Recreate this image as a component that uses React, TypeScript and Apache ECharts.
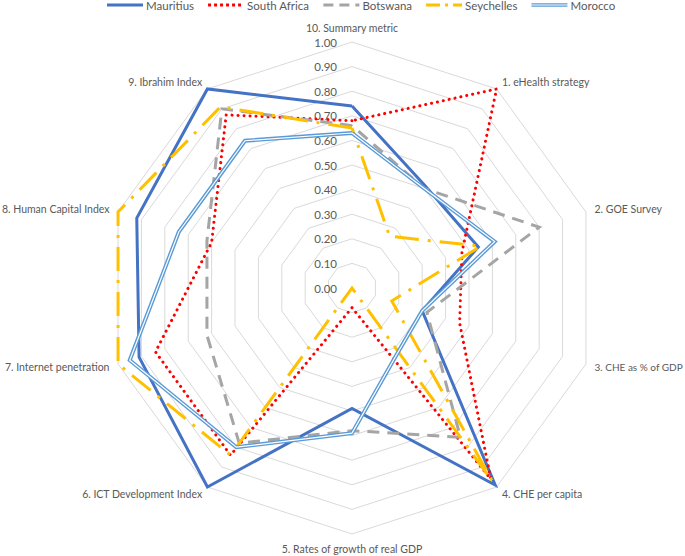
import React, { useEffect, useRef } from "react";
import * as echarts from "echarts";

// Indicators listed clockwise from the top, as in the picture
const INDICATORS = [
  "10. Summary metric",
  "1. eHealth strategy",
  "2. GOE Survey",
  "3. CHE as % of GDP",
  "4. CHE per capita",
  "5. Rates of growth of real GDP",
  "6. ICT Development Index",
  "7. Internet penetration",
  "8. Human Capital Index",
  "9. Ibrahim Index",
];

const MAURITIUS = [0.74, 0.51, 0.54, 0.3, 0.99, 0.49, 1.0, 0.91, 0.92, 1.0];
const SOUTH_AFRICA = [0.68, 1.0, 0.47, 0.46, 0.96, 0.08, 0.84, 0.84, 0.6, 0.87];
const BOTSWANA = [0.66, 0.5, 0.8, 0.32, 0.75, 0.58, 0.78, 0.62, 0.62, 0.9];
const SEYCHELLES = [0.65, 0.26, 0.55, 0.17, 0.97, 0.0, 0.84, 1.0, 1.0, 0.91];
const MOROCCO = [0.63, 0.5, 0.61, 0.3, 0.32, 0.59, 0.8, 0.95, 0.74, 0.74];

const SCALE_MIN = 0;
const SCALE_MAX = 1;
const SCALE_STEP = 0.1;

const TEXT = "#595959";
const FONT = "Lato, 'Liberation Sans', sans-serif";

const ICON_W = 36;
const ICON_H = 10;

function segs(pattern: number[] | null): [number, number][] {
  if (!pattern) return [[0, ICON_W]];
  const out: [number, number][] = [];
  let x = 0;
  let i = 0;
  while (x < ICON_W) {
    const len = pattern[i % pattern.length];
    if (i % 2 === 0) out.push([x, Math.min(len, ICON_W - x)]);
    x += len;
    i++;
  }
  return out;
}

function iconPath(pattern: number[] | null, rows: [number, number][]) {
  let d = `M0,0M${ICON_W},${ICON_H}`;
  for (const [y, h] of rows)
    for (const [x, w] of segs(pattern)) d += `M${x},${y}h${w}v${h}h${-w}Z`;
  return "path://" + d;
}

const THICK: [number, number][] = [[3.5, 3]];

// ECharts places radar indicators counter-clockwise; reorder accordingly
const ORDER = [0, 9, 8, 7, 6, 5, 4, 3, 2, 1];
const reorder = (arr: any[]) => ORDER.map((i) => arr[i]);

export default function App() {
  const ref = useRef<HTMLDivElement>(null);

  useEffect(() => {
    if (!ref.current) return;
    const chart = echarts.init(ref.current, undefined, { renderer: "svg" });

    const item = (name: string, values: number[], color: string, width: number, type: any, cap = "butt") => ({
      name,
      value: reorder(values),
      symbol: "none",
      itemStyle: { color },
      lineStyle: { color, width, type, cap, join: "miter" },
    });

    chart.setOption({
      animation: false,
      legend: {
        top: -6,
        left: 102,
        itemWidth: ICON_W,
        itemHeight: ICON_H,
        itemGap: 14,
        selectedMode: false,
        textStyle: { color: TEXT, fontSize: 11.5, fontFamily: FONT, padding: [0, 0, 0, -2] },
        data: [
          { name: "Mauritius", icon: iconPath(null, THICK) },
          { name: "South Africa", icon: iconPath([3, 3], THICK) },
          { name: "Botswana", icon: iconPath([10, 6], THICK) },
          { name: "Seychelles", icon: iconPath([14, 5, 3, 5], THICK) },
          { name: "Morocco", icon: iconPath(null, [[3.2, 1.2], [5.6, 1.2]]) },
        ],
      },
      radar: {
        center: [352, 288],
        radius: 246,
        startAngle: 90,
        shape: "polygon",
        splitNumber: 10,
        nameGap: 9,
        axisName: {
          color: TEXT,
          fontSize: 10.5,
          fontFamily: FONT,
          formatter: (name: string) =>
            name === "3. CHE as % of GDP" ? `{s|${name}}` : `{n|${name}}`,
          rich: {
            n: { color: TEXT, fontSize: 10.5, fontFamily: FONT },
            s: { color: TEXT, fontSize: 10, fontFamily: FONT },
          },
        },
        axisLine: { show: false },
        axisTick: { show: false },
        axisLabel: { show: false },
        splitArea: { show: false },
        splitLine: { lineStyle: { color: "#D9D9D9", width: 1 } },
        indicator: reorder(INDICATORS).map((name) => ({ name, min: SCALE_MIN, max: SCALE_MAX })),
      },
      grid: { left: 352, top: 42, width: 1, height: 246 },
      xAxis: { type: "value", show: false },
      yAxis: {
        type: "value",
        min: SCALE_MIN,
        max: SCALE_MAX,
        interval: SCALE_STEP,
        axisLine: { show: false },
        axisTick: { show: false },
        splitLine: { show: false },
        axisLabel: {
          formatter: (v: number) => v.toFixed(2),
          color: TEXT,
          fontSize: 11.5,
          fontFamily: FONT,
          margin: 15,
        },
      },
      series: [
        {
          type: "radar",
          symbol: "none",
          data: [
            item("Mauritius", MAURITIUS, "#4472C4", 3, "solid"),
            item("South Africa", SOUTH_AFRICA, "#FF0000", 3, [0.1, 5.9], "round"),
            item("Botswana", BOTSWANA, "#A5A5A5", 3, [12, 8]),
            item("Seychelles", SEYCHELLES, "#FFC000", 3, [24, 9, 3, 9]),
            item("Morocco", MOROCCO, "#5B9BD5", 4, "solid"),
            item("Morocco inner", MOROCCO, "#FFFFFF", 1.2, "solid"),
          ],
        },
      ],
    });

    return () => chart.dispose();
  }, []);

  return (
    <div
      ref={ref}
      style={{ position: "fixed", left: 0, top: 0, width: 685, height: 556, background: "#fff" }}
    />
  );
}
